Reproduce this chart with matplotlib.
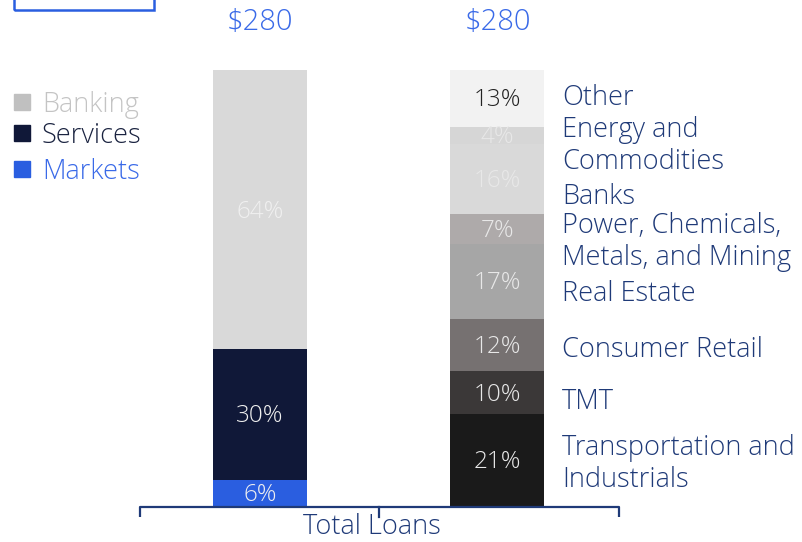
import matplotlib
matplotlib.use("Agg")
import matplotlib.pyplot as plt
from matplotlib.patches import Rectangle

plt.rcParams['font.family'] = ['Open Sans', 'DejaVu Sans']
plt.rcParams['font.weight'] = 'light'

# ---- data ----
totals = ["$280", "$280"]
bar_labels = ["Total Loans"]
left_segments = ["Markets", "Services", "Banking"]
left_values = [6, 30, 64]
left_colors = ["#2a5ee0", "#101838", "#d9d9d9"]

right_segments = ["Transportation and\nIndustrials", "TMT", "Consumer Retail", "Real Estate",
                  "Power, Chemicals,\nMetals, and Mining", "Banks", "Energy and\nCommodities", "Other"]
right_values = [21, 10, 12, 17, 7, 16, 4, 13]
right_colors = ["#1a1a1a", "#3b3838", "#767171", "#a6a6a6", "#aeaaaa", "#d9d9d9", "#d6d6d6", "#f2f2f2"]
right_text_colors = ["#e8e8e8"] * 7 + ["#222222"]

legend_names = ["Banking", "Services", "Markets"]
legend_sq_colors = ["#c0c0c0", "#101838", "#2a5ee0"]
legend_txt_colors = ["#c4c4c4", "#1a2340", "#3a6ae8"]

NAVY = "#1f3a78"
W, H = 803, 542
LFS = 19.5   # label font size
PFS = 17.5   # percent font size

fig = plt.figure(figsize=(W / 100, H / 100), dpi=100)
base_px, top_px = 506, 70
PXU = (base_px - top_px) / 100.0   # pixels per data unit
ax = fig.add_axes([0, (H - base_px) / H, 1, (base_px - top_px) / H])
ax.set_xlim(0, W)
ax.set_ylim(0, 100)
ax.axis("off")

xl, xr, bw = 260, 497.5, 94
TXT_SHIFT = 3   # px downward shift for visual centring

def py(p):
    # pixel y -> data y
    return (base_px - p) / PXU

# left stacked bar
bottom = 0
for v, c in zip(left_values, left_colors):
    ax.bar(xl, v, bw, bottom=bottom, color=c, linewidth=0)
    ax.text(xl, bottom + v / 2 - 2 / PXU, f"{v}%", ha="center", va="center", fontsize=PFS,
            color="#f0f0f0")
    bottom += v

# right stacked bar
bottom = 0
for v, c, tc in zip(right_values, right_colors, right_text_colors):
    ax.bar(xr, v, bw, bottom=bottom, color=c, linewidth=0)
    ax.text(xr, bottom + v / 2 - 2 / PXU, f"{v}%", ha="center", va="center", fontsize=PFS, color=tc)
    bottom += v

# totals on top
for x, t in zip([xl, xr], totals):
    ax.text(x, py(22), t, ha="center", va="center", fontsize=21, color="#3a6ae8", clip_on=False)

# right category labels (pixel y positions of centres)
label_py = [461, 399, 347, 291, 239, 194, 143, 95]
for name, p in zip(right_segments, label_py):
    ax.text(562, py(p + TXT_SHIFT), name, ha="left", va="center", fontsize=LFS, color=NAVY,
            linespacing=1.22, clip_on=False)

# legend
leg_py = [102, 133, 169]
for name, sc, tc, p in zip(legend_names, legend_sq_colors, legend_txt_colors, leg_py):
    ax.add_patch(Rectangle((14, py(p + 8)), 16, py(p - 8) - py(p + 8), color=sc, clip_on=False))
    ax.text(42, py(p + TXT_SHIFT), name, ha="left", va="center", fontsize=LFS, color=tc,
            clip_on=False)

# bracket
ax.plot([140, 140, 619, 619], [py(517), py(507), py(507), py(517)], color=NAVY, lw=1.6,
        clip_on=False, solid_capstyle="butt")
ax.plot([379, 379], [py(507), py(517)], color=NAVY, lw=1.6, clip_on=False)
ax.text(372, py(527), bar_labels[0], ha="center", va="center", fontsize=LFS,
        color=NAVY, clip_on=False)

# clipped box at top-left
ax.add_patch(Rectangle((14, py(10)), 140, py(-30) - py(10), fill=False, edgecolor="#2a5ee0",
                       lw=1.8, clip_on=False))

fig.savefig("out.png", dpi=100)
